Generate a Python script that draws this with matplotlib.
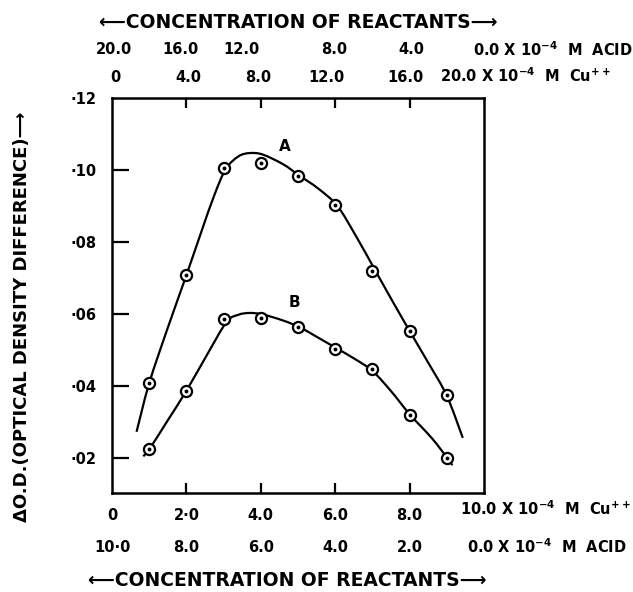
import matplotlib
matplotlib.use('Agg')
import matplotlib.pyplot as plt
import matplotlib.transforms as mtransforms
from matplotlib.path import Path
from matplotlib.patches import PathPatch
import numpy as np

plt.rcParams['font.family'] = ['DejaVu Sans']
plt.rcParams['font.weight'] = 'bold'
plt.rcParams['mathtext.default'] = 'bf'

# measured points (x = 10^-4 M Cu++ on the bottom scale)
cu_conc = [1, 2, 3, 4, 5, 6, 7, 8, 9]
od_a = [0.0408, 0.0708, 0.1006, 0.1019, 0.0983, 0.0902, 0.0719, 0.0552, 0.0376]
od_b = [0.0224, 0.0387, 0.0585, 0.0588, 0.0564, 0.0504, 0.0446, 0.0319, 0.0201]

# hand drawn curves
curve_a_x = [0.66, 1.0, 1.5, 2.0, 2.4, 2.75, 3.06, 3.4, 3.7, 4.05, 4.6, 5.03, 5.55, 6.06, 6.55, 7.04, 7.5,
             8.0, 8.5, 9.0, 9.43]
curve_a_y = [0.0273, 0.0408, 0.0562, 0.0708, 0.0828, 0.0930, 0.1003, 0.1038, 0.1047, 0.1043, 0.1016, 0.0985,
             0.0948, 0.0900, 0.0818, 0.0728, 0.0643, 0.0553, 0.0465, 0.0373, 0.0256]
curve_b_x = [0.84, 1.0, 1.5, 2.0, 2.55, 3.08, 3.4, 3.7, 4.05, 4.6, 5.03, 5.5, 6.05, 6.5, 7.0, 7.5, 8.0,
             8.6, 9.0, 9.15]
curve_b_y = [0.0205, 0.0224, 0.0305, 0.0387, 0.0486, 0.0578, 0.0598, 0.0603, 0.0599, 0.0582, 0.0564, 0.0537,
             0.0504, 0.0477, 0.0442, 0.0386, 0.0322, 0.0255, 0.0202, 0.0180]

# axis scales
bottom_ticks = [0, 2, 4, 6, 8, 10]
bottom_cu_labels = ['0', '2·0', '4.0', '6.0', '8.0']
bottom_acid_labels = ['10·0', '8.0', '6.0', '4.0', '2.0']
top_cu_labels = ['0', '4.0', '8.0', '12.0', '16.0']
top_acid_labels = ['20.0', '16.0', '12.0', '8.0', '4.0']
y_ticks = [0.02, 0.04, 0.06, 0.08, 0.10, 0.12]
y_labels = ['·02', '·04', '·06', '·08', '·10', '·12']

# small offsets of the hand lettering (data units)
top_cu_nudge = [0.08, 0.05, -0.08, -0.24, -0.11]
top_acid_nudge = [0.05, -0.16, -0.51, -0.03, 0.05]


def smooth_path(xs, ys):
    # Catmull-Rom curve through the traced points, as cubic Beziers
    pts = np.column_stack([xs, ys])
    verts = [pts[0]]
    codes = [Path.MOVETO]
    n = len(pts)
    for i in range(n - 1):
        p0 = pts[i - 1] if i > 0 else pts[i]
        p1, p2 = pts[i], pts[i + 1]
        p3 = pts[i + 2] if i + 2 < n else pts[i + 1]
        verts += [p1 + (p2 - p0) / 6, p2 - (p3 - p1) / 6, p2]
        codes += [Path.CURVE4] * 3
    return Path(verts, codes)


W, H = 633, 592
fig = plt.figure(figsize=(W / 100, H / 100), dpi=100)
ax = fig.add_axes([112 / W, 1 - 493 / H, (484 - 112) / W, (493 - 98) / H])

for cx, cy in ((curve_a_x, curve_a_y), (curve_b_x, curve_b_y)):
    ax.add_patch(PathPatch(smooth_path(cx, cy), facecolor='none', edgecolor='black', lw=1.6, zorder=2))
for vals in (od_a, od_b):
    ax.plot(cu_conc, vals, ls='none', marker='o', ms=8, mfc='white', mec='black', mew=1.6, zorder=3)
    ax.plot(cu_conc, vals, ls='none', marker='o', ms=1.8, mfc='black', mec='black', zorder=4)

ax.text(4.65, 0.1064, 'A', fontsize=11, ha='center', va='center')
ax.text(4.9, 0.0633, 'B', fontsize=11, ha='center', va='center')

ax.set_xlim(0, 10)
ax.set_ylim(0.0103, 0.12)
for s in ax.spines.values():
    s.set_linewidth(1.8)

ax.set_xticks(bottom_ticks[:-1])
ax.set_xticklabels(bottom_cu_labels, fontsize=10.5)
ax.set_yticks(y_ticks)
ax.set_yticklabels(y_labels, fontsize=10.5)
ax.tick_params(axis='x', direction='in', length=7, width=1.6, pad=11, top=True)
ax.tick_params(axis='y', direction='in', length=12, width=1.6, pad=11)
# no marks at the corners
for t in ax.xaxis.get_major_ticks()[:1]:
    t.tick1line.set_visible(False)
    t.tick2line.set_visible(False)
for t in ax.yaxis.get_major_ticks()[-1:]:
    t.tick1line.set_visible(False)

tr = mtransforms.blended_transform_factory(ax.transData, fig.transFigure)


def fy(py):
    return 1 - py / H


for x, lab in zip(bottom_ticks, bottom_acid_labels):
    ax.text(x, fy(548), lab, transform=tr, fontsize=10.5, ha='center', va='center')
for x, lab, dx in zip(bottom_ticks, top_cu_labels, top_cu_nudge):
    ax.text(x + dx, fy(77), lab, transform=tr, fontsize=10.5, ha='center', va='center')
for x, lab, dx in zip(bottom_ticks, top_acid_labels, top_acid_nudge):
    ax.text(x + dx, fy(50), lab, transform=tr, fontsize=10.5, ha='center', va='center')

fig.text(460 / W, fy(509), '10.0 X 10$^{-4}$  M  Cu$^{++}$', fontsize=10.5, ha='left', va='center')
fig.text(467 / W, fy(547), '0.0 X 10$^{-4}$  M  ACID', fontsize=10.5, ha='left', va='center')
fig.text(440 / W, fy(76), '20.0 X 10$^{-4}$  M  Cu$^{++}$', fontsize=10.5, ha='left', va='center')
fig.text(473 / W, fy(50), '0.0 X 10$^{-4}$  M  ACID', fontsize=10.5, ha='left', va='center')

fig.text(298 / W, fy(22), '⟵CONCENTRATION OF REACTANTS⟶', fontsize=13.5, ha='center', va='center')
fig.text(287 / W, fy(580), '⟵CONCENTRATION OF REACTANTS⟶', fontsize=13.5, ha='center', va='center')
fig.text(22 / W, fy(317), 'ΔO.D.(OPTICAL DENSITY DIFFERENCE)⟶', fontsize=13, rotation=90,
         ha='center', va='center')

fig.savefig('out.png', dpi=100)
